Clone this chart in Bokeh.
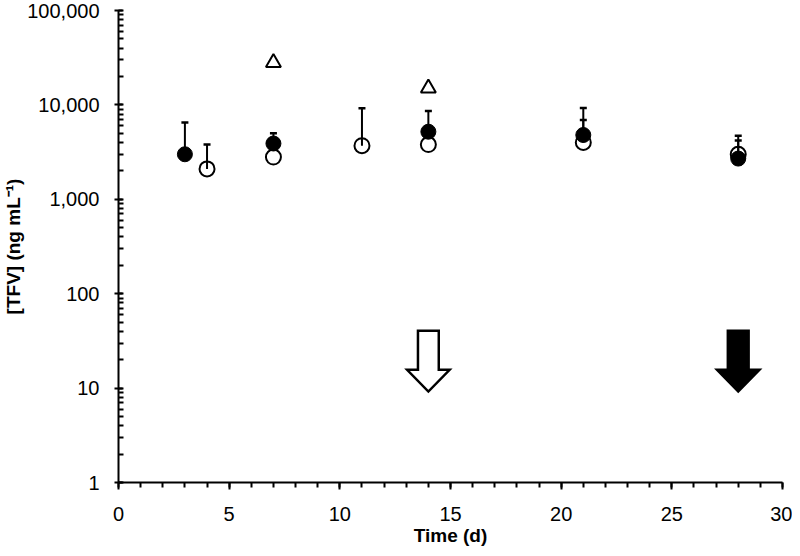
from bokeh.plotting import figure
from bokeh.models import Range1d, LogTicker, NumeralTickFormatter, SingleIntervalTicker
from bokeh.embed import file_html
from bokeh.resources import INLINE

# ---- data ----
filled_days = [3, 7, 14, 21, 28]
filled_tfv = [3000, 3900, 5200, 4800, 2700]
filled_upper = [6500, 5000, 8600, 9300, 4700]

open_days = [4, 7, 11, 14, 21, 28]
open_tfv = [2100, 2800, 3700, 3800, 4000, 3000]
open_upper = [3800, 2800, 9200, 3800, 6900, 4200]

tri_days = [7, 14]
tri_tfv = [28000, 15000]

arrow_days = [14, 28]
arrow_fill = ["white", "black"]
arrow_top = 40.5
arrow_head = 15.6
arrow_tip = 9.2

FONT = "Liberation Sans"

p = figure(width=792, height=548, y_axis_type="log",
           x_range=Range1d(0, 30), y_range=Range1d(1, 100000),
           output_backend="svg", toolbar_location=None,
           min_border_left=118, min_border_right=10,
           min_border_top=10, min_border_bottom=56)
p.outline_line_color = None
p.xgrid.visible = False
p.ygrid.visible = False
p.background_fill_color = "white"
p.border_fill_color = "white"

# arrows
shaft_hw = 0.47
head_hw = 0.96
for d, c in zip(arrow_days, arrow_fill):
    xs = [d - shaft_hw, d + shaft_hw, d + shaft_hw, d + head_hw, d, d - head_hw, d - shaft_hw]
    ys = [arrow_top, arrow_top, arrow_head, arrow_head, arrow_tip, arrow_head, arrow_head]
    p.patch(xs, ys, fill_color=c, line_color="black", line_width=2.5, line_join="miter")

# open circles (no fill)
p.scatter(open_days, open_tfv, marker="circle", size=15, fill_color=None,
          line_color="black", line_width=2)

# error bars (upper only)
def bars(xs, ys, ups):
    keep = [(x, y, u) for x, y, u in zip(xs, ys, ups) if u > y]
    bx = [k[0] for k in keep]
    by = [k[1] for k in keep]
    bu = [k[2] for k in keep]
    p.segment(bx, by, bx, bu, line_color="black", line_width=2)
    p.scatter(bx, bu, marker="dash", size=7, line_color="black", line_width=2.5)

bars(open_days, open_tfv, open_upper)
bars(filled_days, filled_tfv, filled_upper)

# filled circles
p.scatter(filled_days, filled_tfv, marker="circle", size=15, fill_color="black",
          line_color="black", line_width=1)

# triangles
p.scatter(tri_days, tri_tfv, marker="triangle", size=15, fill_color=None,
          line_color="black", line_width=2)

# axes
xa = p.xaxis[0]
xa.ticker = SingleIntervalTicker(interval=5, num_minor_ticks=5)
xa.axis_label = "Time (d)"
ya = p.yaxis[0]
ya.ticker = LogTicker(num_minor_ticks=10)
ya.formatter = NumeralTickFormatter(format="0,0")
ya.axis_label = "[TFV] (ng mL\u207b\u00b9)"

for ax in (xa, ya):
    ax.axis_line_width = 2
    ax.axis_line_color = "black"
    ax.major_tick_line_width = 2
    ax.minor_tick_line_width = 2
    ax.major_tick_line_color = "black"
    ax.minor_tick_line_color = "black"
    ax.major_label_text_font = FONT
    ax.major_label_text_font_size = "20px"
    ax.major_label_text_color = "black"
    ax.axis_label_text_font = FONT
    ax.axis_label_text_font_size = "19px"
    ax.axis_label_text_font_style = "bold"
    ax.axis_label_text_color = "black"

xa.major_tick_out = 7
xa.major_tick_in = 0
xa.minor_tick_out = 5
xa.minor_tick_in = 0
xa.major_label_standoff = 17
xa.axis_label_standoff = 1

ya.major_tick_out = 4
ya.major_tick_in = 4
ya.minor_tick_out = 0
ya.minor_tick_in = 5
ya.major_label_standoff = 15
ya.axis_label_standoff = 0

open("out.html", "w").write(file_html(p, INLINE))
